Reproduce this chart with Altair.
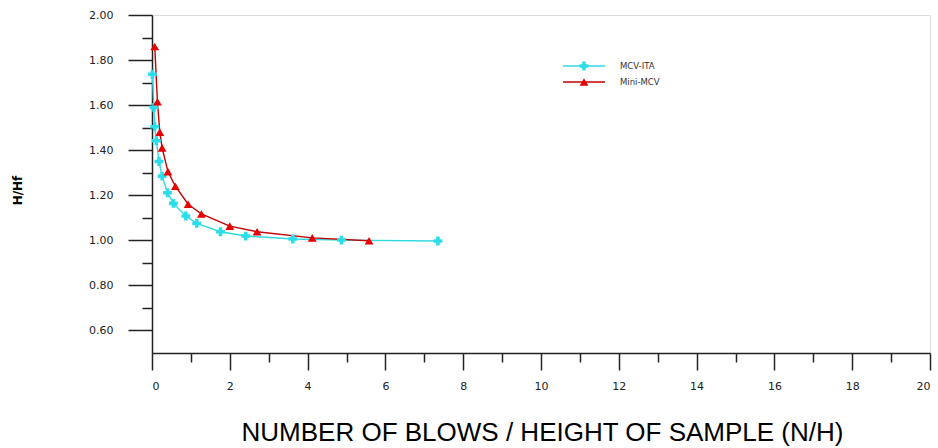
import altair as alt
import pandas as pd

# ---- data ----
series_names = ["MCV-ITA", "Mini-MCV"]
marker_colors = ["#2ADDE8", "#E80000"]
line_colors = ["#30D8E2", "#C00000"]
marker_shapes = ["cross", "triangle-up"]

mcv_ita_x = [0.01, 0.05, 0.07, 0.11, 0.18, 0.26, 0.40, 0.55, 0.87, 1.15, 1.76, 2.41, 3.62, 4.87, 7.35]
mcv_ita_y = [1.737, 1.59, 1.504, 1.442, 1.35, 1.285, 1.211, 1.164, 1.108, 1.075, 1.038, 1.019, 1.006, 1.001, 0.997]

mini_mcv_x = [0.07, 0.14, 0.20, 0.26, 0.41, 0.60, 0.93, 1.27, 2.00, 2.70, 4.12, 5.58]
mini_mcv_y = [1.86, 1.615, 1.48, 1.41, 1.305, 1.24, 1.16, 1.117, 1.063, 1.038, 1.011, 0.998]

x_major = list(range(0, 21, 2))
x_minor = list(range(1, 20, 2))
y_major = [0.6, 0.8, 1.0, 1.2, 1.4, 1.6, 1.8, 2.0]
y_minor = [0.7, 0.9, 1.1, 1.3, 1.5, 1.7, 1.9]

x_title = "NUMBER OF BLOWS / HEIGHT OF SAMPLE (N/H)"
y_title = "H/Hf"

df = pd.concat([
    pd.DataFrame({"x": mcv_ita_x, "y": mcv_ita_y, "series": series_names[0], "order": range(len(mcv_ita_x))}),
    pd.DataFrame({"x": mini_mcv_x, "y": mini_mcv_y, "series": series_names[1], "order": range(len(mini_mcv_x))}),
], ignore_index=True)

xs = alt.Scale(domain=[0, 20], nice=False, zero=False)
ys = alt.Scale(domain=[0.5, 2.0], nice=False, zero=False)

label_font = "DejaVu Sans"
axis_color = "#222222"

x_major_axis = alt.Axis(
    values=x_major, format="d", grid=False, orient="bottom",
    tickSize=17, tickWidth=1.5, tickColor=axis_color,
    domainColor=axis_color, domainWidth=1.5,
    labelFont=label_font, labelFontSize=11, labelColor="#222", labelPadding=10,
    title=x_title, titleFont="Liberation Sans", titleFontSize=26, titleFontWeight="normal",
    titleColor="#000", titleX=390, titleY=87, titleBaseline="alphabetic", titleAlign="center",
)
y_major_axis = alt.Axis(
    values=y_major, format=".2f", grid=False, orient="left",
    tickSize=24, tickWidth=1.5, tickColor=axis_color,
    domainColor=axis_color, domainWidth=1.5,
    labelFont=label_font, labelFontSize=11, labelColor="#222", labelPadding=15,
    title=y_title, titleFont="DejaVu Sans", titleFontSize=12, titleFontWeight="bold",
    titleColor="#000", titleAngle=270, titleX=-135, titleY=175,
    titleAlign="center", titleBaseline="middle",
)
x_minor_axis = alt.Axis(
    values=x_minor, labels=False, grid=False, orient="bottom", domain=False,
    tickSize=9, tickWidth=1.5, tickColor=axis_color, title=None,
)
y_minor_axis = alt.Axis(
    values=y_minor, labels=False, grid=False, orient="left", domain=False,
    tickSize=10, tickWidth=1.5, tickColor=axis_color, title=None,
)

base = alt.Chart(df)

lines = base.mark_line(strokeWidth=1.4).encode(
    x=alt.X("x:Q", scale=xs, axis=x_major_axis),
    y=alt.Y("y:Q", scale=ys, axis=y_major_axis),
    color=alt.Color("series:N", scale=alt.Scale(domain=series_names, range=line_colors), legend=None),
    order="order:Q",
)

minor = base.mark_point(opacity=0).encode(
    x=alt.X("x:Q", scale=xs, axis=x_minor_axis),
    y=alt.Y("y:Q", scale=ys, axis=y_minor_axis),
)

points = base.mark_point(filled=True, opacity=1, size=78).encode(
    x=alt.X("x:Q", scale=xs, axis=None),
    y=alt.Y("y:Q", scale=ys, axis=None),
    fill=alt.Fill("series:N", scale=alt.Scale(domain=series_names, range=marker_colors), legend=None),
    shape=alt.Shape("series:N", scale=alt.Scale(domain=series_names, range=marker_shapes), legend=None),
)

# ---- hand-made legend (line + marker + label) ----
legend_y = [51, 67]
legend_layers = []
for i, name in enumerate(series_names):
    ld = alt.Chart(pd.DataFrame({"label": [name]}))
    legend_layers.append(
        ld.mark_rule(color=line_colors[i], strokeWidth=1.4).encode(
            x=alt.value(411), x2=alt.value(453), y=alt.value(legend_y[i]))
    )
    legend_layers.append(
        ld.mark_point(filled=True, opacity=1, size=78, shape=marker_shapes[i], color=marker_colors[i]).encode(
            x=alt.value(432), y=alt.value(legend_y[i]))
    )
    legend_layers.append(
        ld.mark_text(align="left", baseline="middle", font="DejaVu Sans", fontSize=8.5, color="#333").encode(
            x=alt.value(468), y=alt.value(legend_y[i]), text="label:N")
    )

chart = alt.layer(lines, minor, points, *legend_layers).resolve_axis(
    x="independent", y="independent"
).properties(
    width=778, height=338,
    autosize=alt.AutoSizeParams(type="none"),
    padding={"left": 152, "top": 15, "right": 8, "bottom": 95},
).configure_view(stroke=axis_color, strokeWidth=1.5).configure(background="white")

chart.save("out.html", embed_options={"renderer": "svg", "actions": False})
